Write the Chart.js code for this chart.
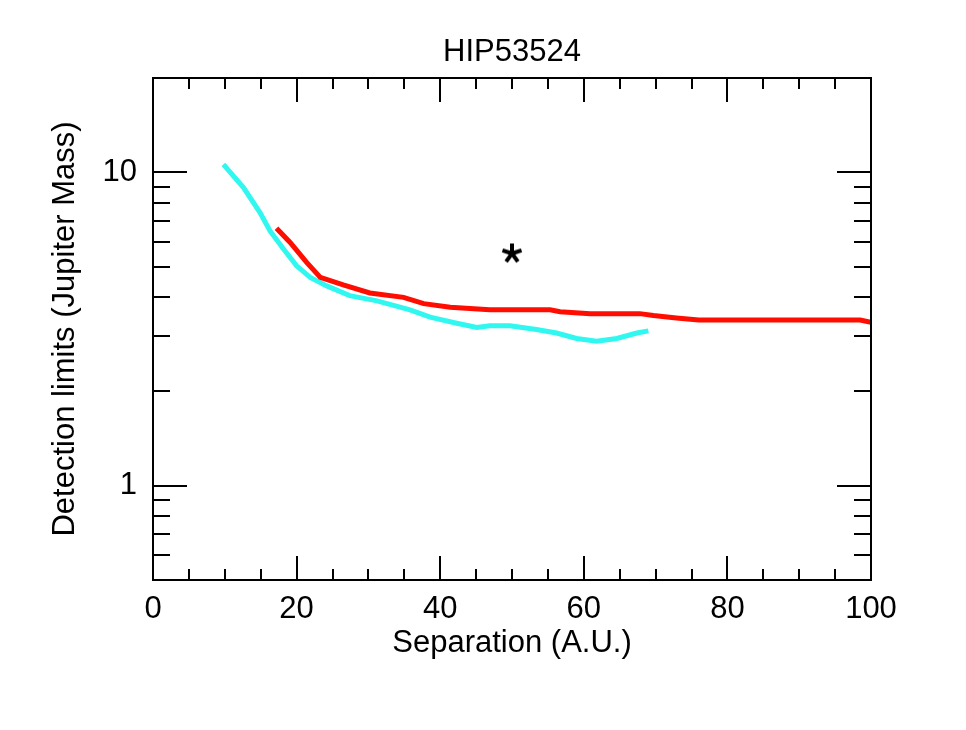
<!DOCTYPE html>
<html>
<head>
<meta charset="utf-8">
<script src="https://cdn.jsdelivr.net/npm/chart.js@4"></script>
<style>
  html, body { margin: 0; padding: 0; background: #fff; }
  #wrap { width: 966px; height: 730px; }
</style>
</head>
<body>
<div id="wrap"><canvas id="chart" width="966" height="730"></canvas></div>
<script>
// ===== DATA =====
const cyanSep  = [9.8, 12.6, 14.9, 16.3, 18.2, 20.0, 21.9, 24.2, 27.4, 31.2, 35.8, 38.6, 42.3, 45.1, 46.9, 49.7, 53.4, 56.2, 59.0, 61.8, 64.6, 67.4, 69.0];
const cyanMass = [10.6, 8.94, 7.44, 6.50, 5.68, 5.03, 4.62, 4.34, 4.04, 3.89, 3.64, 3.45, 3.30, 3.20, 3.24, 3.24, 3.15, 3.07, 2.95, 2.89, 2.95, 3.07, 3.12];

const redSep  = [17.2, 19.1, 21.4, 23.3, 26.5, 30.2, 34.9, 37.7, 41.4, 46.9, 55.3, 56.7, 60.9, 67.8, 69.7, 72.9, 76.0, 98.5, 100];
const redMass = [6.63, 5.97, 5.16, 4.62, 4.37, 4.12, 3.99, 3.81, 3.71, 3.64, 3.64, 3.59, 3.54, 3.54, 3.49, 3.43, 3.38, 3.38, 3.32];

const starSep  = [50];
const starMass = [5.55];

const xMajorTicks = [0, 20, 40, 60, 80, 100];
const xMinorTicks = [5, 10, 15, 25, 30, 35, 45, 50, 55, 65, 70, 75, 85, 90, 95];
const yMajorTicks = [1, 10];
const yMinorTicks = [0.6, 0.7, 0.8, 0.9, 2, 3, 4, 5, 6, 7, 8, 9];

const FONT = "'Liberation Sans', Arial, sans-serif";

function toPoints(xs, ys) {
  return xs.map((x, i) => ({ x: x, y: ys[i] }));
}

/* =========================
   STAR MARKER (5-arm asterisk)
========================= */
const starImg = document.createElement("canvas");
starImg.width = 24;
starImg.height = 24;
(function () {
  const c = starImg.getContext("2d");
  c.strokeStyle = "#000";
  c.lineWidth = 4;
  c.lineCap = "butt";
  c.translate(12, 13);
  for (let k = 0; k < 5; k++) {
    const a = -Math.PI / 2 + k * 2 * Math.PI / 5;
    c.beginPath();
    c.moveTo(0, 0);
    c.lineTo(Math.cos(a) * 10, Math.sin(a) * 10);
    c.stroke();
  }
})();

/* =========================
   FRAME + INWARD TICKS
========================= */
const frameTicks = {
  id: "frameTicks",
  afterDatasetsDraw(chart) {
    const { ctx, chartArea: a, scales } = chart;
    const xs = scales.x, ys = scales.y;
    ctx.save();
    ctx.strokeStyle = "#000";
    ctx.lineWidth = 2;
    ctx.strokeRect(a.left, a.top, a.right - a.left, a.bottom - a.top);

    const xTick = (v, len) => {
      const p = Math.round(xs.getPixelForValue(v));
      ctx.beginPath();
      ctx.moveTo(p, a.bottom); ctx.lineTo(p, a.bottom - len);
      ctx.moveTo(p, a.top); ctx.lineTo(p, a.top + len);
      ctx.stroke();
    };
    const yTick = (v, len) => {
      const p = Math.round(ys.getPixelForValue(v));
      ctx.beginPath();
      ctx.moveTo(a.left, p); ctx.lineTo(a.left + len, p);
      ctx.moveTo(a.right, p); ctx.lineTo(a.right - len, p);
      ctx.stroke();
    };
    xMajorTicks.forEach(v => xTick(v, 24));
    xMinorTicks.forEach(v => xTick(v, 11));
    yMajorTicks.forEach(v => yTick(v, 34));
    yMinorTicks.forEach(v => yTick(v, 17));
    ctx.restore();
  }
};

new Chart(document.getElementById("chart"), {
  type: "scatter",
  data: {
    datasets: [
      {
        data: toPoints(starSep, starMass),
        pointStyle: starImg,
        pointRadius: 10,
        showLine: false
      },
      {
        data: toPoints(redSep, redMass),
        borderColor: "#FF0D00",
        backgroundColor: "#FF0D00",
        borderWidth: 5,
        showLine: true,
        pointRadius: 0
      },
      {
        data: toPoints(cyanSep, cyanMass),
        borderColor: "#30F8F0",
        backgroundColor: "#30F8F0",
        borderWidth: 5,
        showLine: true,
        pointRadius: 0
      }
    ]
  },
  options: {
    responsive: false,
    animation: false,
    devicePixelRatio: 1,
    layout: { padding: { left: 0, right: 95, top: 0, bottom: 0 } },
    plugins: {
      legend: { display: false },
      tooltip: { enabled: false },
      title: {
        display: true,
        text: "HIP53524",
        fullSize: false,
        color: "#000",
        font: { family: FONT, size: 31, weight: "normal", lineHeight: 1.2 },
        padding: { top: 34, bottom: 6.8 }
      }
    },
    scales: {
      x: {
        type: "linear",
        position: "bottom",
        min: 0,
        max: 100,
        grid: { display: false },
        border: { display: false },
        afterBuildTicks: s => { s.ticks = xMajorTicks.map(v => ({ value: v })); },
        afterFit: s => { s.height = 150; },
        ticks: {
          autoSkip: false,
          maxRotation: 0,
          color: "#000",
          padding: 3,
          font: { family: FONT, size: 31 }
        },
        title: {
          display: true,
          text: "Separation (A.U.)",
          color: "#000",
          font: { family: FONT, size: 31, lineHeight: 1.2 },
          padding: { top: 0, bottom: 68 }
        }
      },
      y: {
        type: "logarithmic",
        min: 0.5,
        max: 20,
        grid: { display: false },
        border: { display: false },
        afterBuildTicks: s => { s.ticks = yMajorTicks.map(v => ({ value: v })); },
        afterFit: s => { s.width = 153; },
        ticks: {
          autoSkip: false,
          color: "#000",
          padding: 8,
          font: { family: FONT, size: 31 },
          callback: v => String(v)
        },
        title: {
          display: true,
          text: "Detection limits (Jupiter Mass)",
          color: "#000",
          font: { family: FONT, size: 31, lineHeight: 1.2 },
          padding: { top: 47, bottom: 0 }
        }
      }
    }
  },
  plugins: [frameTicks]
});
</script>
</body>
</html>
